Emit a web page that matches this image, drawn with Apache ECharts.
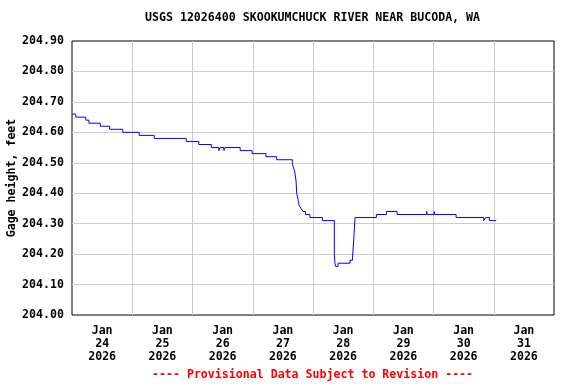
<!DOCTYPE html>
<html>
<head>
<meta charset="utf-8">
<script src="https://cdn.jsdelivr.net/npm/echarts@6/dist/echarts.min.js"></script>
<style>html,body{margin:0;padding:0;background:#fff;}#c{width:576px;height:384px;}</style>
</head>
<body>
<div id="c"></div>
<script>
const titleText = 'USGS 12026400 SKOOKUMCHUCK RIVER NEAR BUCODA, WA';
const footerText = '---- Provisional Data Subject to Revision ----';
const yAxisName = 'Gage height, feet';
const startTime = '2026-01-24T00:00';
const dayLabels = ['Jan\n24\n2026','Jan\n25\n2026','Jan\n26\n2026','Jan\n27\n2026','Jan\n28\n2026','Jan\n29\n2026','Jan\n30\n2026','Jan\n31\n2026'];
const times = [
 '2026-01-24T00:00','2026-01-24T01:30','2026-01-24T05:30','2026-01-24T06:45','2026-01-24T11:15','2026-01-24T15:00','2026-01-24T20:15',
 '2026-01-25T02:45','2026-01-25T08:45','2026-01-25T21:30',
 '2026-01-26T02:30','2026-01-26T07:30','2026-01-26T10:30','2026-01-26T11:00','2026-01-26T12:30','2026-01-26T13:00','2026-01-26T19:00','2026-01-26T23:45',
 '2026-01-27T05:15','2026-01-27T09:30','2026-01-27T15:45','2026-01-27T16:00','2026-01-27T16:45','2026-01-27T17:15','2026-01-27T17:30','2026-01-27T18:00','2026-01-27T18:30','2026-01-27T19:15','2026-01-27T20:00','2026-01-27T21:00','2026-01-27T22:45',
 '2026-01-28T03:45','2026-01-28T08:30','2026-01-28T08:45','2026-01-28T09:00','2026-01-28T10:00','2026-01-28T14:45','2026-01-28T15:45','2026-01-28T16:15','2026-01-28T16:45',
 '2026-01-29T01:15','2026-01-29T05:15','2026-01-29T09:30','2026-01-29T21:15','2026-01-29T21:30',
 '2026-01-30T00:15','2026-01-30T00:30','2026-01-30T09:00','2026-01-30T20:00','2026-01-30T20:45','2026-01-30T22:15',
 '2026-01-31T01:00'
];
const heights = [
 204.66,204.65,204.64,204.63,204.62,204.61,204.60,
 204.59,204.58,204.57,
 204.56,204.55,204.54,204.55,204.54,204.55,204.54,204.53,
 204.52,204.51,204.50,204.49,204.47,204.44,204.40,204.38,204.36,204.35,204.34,204.33,204.32,
 204.31,204.20,204.17,204.16,204.17,204.18,204.19,204.25,204.32,
 204.33,204.34,204.33,204.34,204.33,
 204.34,204.33,204.32,204.31,204.32,204.31,
 204.31
];
const yMin = 204.0, yMax = 204.9, yStep = 0.1;

const t0 = new Date(startTime).getTime();
const seriesData = times.map((t, i) => [(new Date(t).getTime() - t0) / 3600000, heights[i]]);
const FONT = '"DejaVu Sans Mono", "Liberation Mono", monospace';

const chart = echarts.init(document.getElementById('c'), null, {renderer: 'canvas'});
chart.setOption({
  animation: false,
  backgroundColor: '#fff',
  grid: {left: 72, right: 22, top: 41, bottom: 69, containLabel: false, outerBoundsMode: 'none',
         show: true, borderColor: '#000', borderWidth: 1, backgroundColor: 'transparent'},
  graphic: [
    {type: 'text', left: 145, top: 12, style: {text: titleText, fill: '#000', font: 'bold 11.6px ' + FONT}},
    {type: 'text', left: 152, top: 369, style: {text: footerText, fill: '#ff0000', font: 'bold 11.6px ' + FONT}}
  ],
  xAxis: [
    {type: 'value', min: 0, max: 192, interval: 24, position: 'bottom',
     axisLine: {show: false}, axisTick: {show: false}, axisLabel: {show: false},
     splitLine: {show: true, showMinLine: false, showMaxLine: false, lineStyle: {color: '#cccccc', width: 1}}},
    {type: 'category', data: dayLabels, position: 'bottom', boundaryGap: true,
     axisLine: {show: false}, axisTick: {show: false}, splitLine: {show: false},
     axisLabel: {interval: 0, color: '#000', fontFamily: FONT, fontWeight: 'bold', fontSize: 11.6, lineHeight: 12.6, margin: 10}}
  ],
  yAxis: [
    {type: 'value', min: yMin, max: yMax, interval: yStep,
     name: yAxisName, nameLocation: 'middle', nameGap: 54, nameMoveOverlap: false,
     nameTextStyle: {color: '#000', fontFamily: FONT, fontWeight: 'bold', fontSize: 11.6},
     axisLine: {show: false}, axisTick: {show: false},
     axisLabel: {color: '#000', fontFamily: FONT, fontWeight: 'bold', fontSize: 11.6, margin: 8,
                 formatter: v => v.toFixed(2)},
     splitLine: {show: true, showMinLine: false, showMaxLine: false, lineStyle: {color: '#cccccc', width: 1}}}
  ],
  series: [
    {type: 'line', xAxisIndex: 0, yAxisIndex: 0, data: seriesData, step: 'end', showSymbol: false,
     lineStyle: {color: '#0000ff', width: 1}, itemStyle: {color: '#0000ff'}}
  ]
});
</script>
</body>
</html>
